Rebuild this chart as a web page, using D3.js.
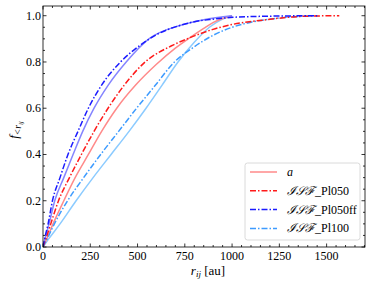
<!DOCTYPE html>
<html><head><meta charset="utf-8">
<script src="https://cdn.jsdelivr.net/npm/d3@7"></script>
<style>body{margin:0;background:#fff}svg{display:block}</style>
</head><body>
<svg id="c" width="373" height="286"></svg>
<script>
// Data: [r_ij (au), cumulative fraction]
const seriesA = [[0,0],[20,0.035],[53,0.1],[110,0.2],[170,0.3],[240,0.4],[310,0.5],[390,0.6],[490,0.7],[600,0.79],[700,0.86],[777,0.905],[850,0.945],[899,0.97],[950,0.988],[1000,1.0]];
const seriesPl050 = [[0,0],[15,0.035],[41,0.1],[82,0.2],[140,0.3],[203,0.4],[270,0.5],[344,0.6],[430,0.7],[540,0.8],[680,0.87],[777,0.905],[899,0.941],[1000,0.962],[1163,0.981],[1342,0.996],[1450,0.999],[1567,1.0]];
const seriesPl050ff = [[0,0],[10,0.04],[27,0.1],[50,0.2],[90,0.3],[132,0.4],[185,0.5],[240,0.6],[310,0.7],[410,0.8],[510,0.87],[605,0.92],[724,0.958],[800,0.974],[900,0.985],[1005,0.993],[1200,0.998],[1450,1.0]];
const seriesPl100 = [[0,0],[22,0.035],[60,0.1],[130,0.2],[215,0.3],[305,0.4],[400,0.5],[495,0.6],[595,0.7],[695,0.8],[790,0.86],[899,0.915],[1000,0.95],[1100,0.972],[1250,0.99],[1350,0.997],[1450,1.0]];
const seriesFfSolid = [[0,0],[12,0.04],[32,0.1],[62,0.2],[110,0.3],[159,0.4],[210,0.5],[270,0.6],[345,0.7],[440,0.8],[560,0.9],[724,0.958],[850,0.983],[1000,1.0]];
const seriesPl100Solid = [[0,0],[30,0.035],[90,0.1],[175,0.2],[265,0.3],[360,0.4],[455,0.5],[545,0.6],[630,0.7],[714,0.8],[800,0.885],[880,0.95],[950,0.985],[1000,1.0]];

const xTicks = [0,250,500,750,1000,1250,1500];
const yTicks = [0.0,0.2,0.4,0.6,0.8,1.0];
const legendLabels = ["a","ℐ𝒮ℱ_Pl050","ℐ𝒮ℱ_Pl050ff","ℐ𝒮ℱ_Pl100"];

const L=43, R=365, T=6, B=247;
const x = d3.scaleLinear().domain([0,1703]).range([L,R]);
const y = d3.scaleLinear().domain([0,1.042]).range([B,T]);
const svg = d3.select("#c");
const font = "'Liberation Serif','DejaVu Serif',serif";

const lines = [
  {d:seriesPl100Solid, c:"#8ccbff", dash:null},
  {d:seriesA, c:"#ff8a8a", dash:null},
  {d:seriesFfSolid, c:"#8585ff", dash:null},
  {d:seriesPl100, c:"#3d9bff", dash:"6,2,1.5,2"},
  {d:seriesPl050, c:"#ff1a1a", dash:"6,2,1.5,2"},
  {d:seriesPl050ff, c:"#1a1aff", dash:"6,2,1.5,2"}
];
const lineGen = d3.line().x(d=>x(d[0])).y(d=>y(d[1])).curve(d3.curveMonotoneX);
const g = svg.append("g");
g.append("clipPath").attr("id","clip").append("rect").attr("x",L).attr("y",T).attr("width",R-L).attr("height",B-T);
const pg = g.append("g").attr("clip-path","url(#clip)");
lines.forEach(l=>{
  pg.append("path").attr("d",lineGen(l.d)).attr("fill","none").attr("stroke",l.c)
    .attr("stroke-width",1.5).attr("stroke-dasharray",l.dash);
});

// frame
svg.append("rect").attr("x",L).attr("y",T).attr("width",R-L).attr("height",B-T)
  .attr("fill","none").attr("stroke","#000").attr("stroke-width",0.8);

// ticks
const tk = svg.append("g").attr("stroke","#000").attr("stroke-width",0.8);
const xMinor = d3.range(0,1701,50);
const yMinor = d3.range(0,1.041,0.05);
xMinor.forEach(v=>{
  const major = xTicks.includes(v);
  const len = major?3.5:2;
  tk.append("line").attr("x1",x(v)).attr("x2",x(v)).attr("y1",B).attr("y2",B-len);
  tk.append("line").attr("x1",x(v)).attr("x2",x(v)).attr("y1",T).attr("y2",T+len);
});
yMinor.forEach(v=>{
  const major = yTicks.some(t=>Math.abs(t-v)<1e-6);
  const len = major?3.5:2;
  tk.append("line").attr("y1",y(v)).attr("y2",y(v)).attr("x1",L).attr("x2",L+len);
  tk.append("line").attr("y1",y(v)).attr("y2",y(v)).attr("x1",R).attr("x2",R-len);
});
xTicks.forEach(v=>{
  svg.append("text").attr("x",x(v)).attr("y",260).attr("text-anchor","middle")
    .attr("font-family",font).attr("font-size",12).text(v);
});
yTicks.forEach(v=>{
  svg.append("text").attr("x",41).attr("y",y(v)+4).attr("text-anchor","end")
    .attr("font-family",font).attr("font-size",12).text(v.toFixed(1));
});

// axis labels
const xl = svg.append("text").attr("x",208).attr("y",275).attr("text-anchor","middle")
  .attr("font-family",font).attr("font-size",13);
xl.append("tspan").attr("font-style","italic").attr("font-size",13).text("r");
xl.append("tspan").attr("font-style","italic").attr("font-size",9).attr("dy",2).text("ij");
xl.append("tspan").attr("dy",-2).text(" [au]");

const yl = svg.append("text").attr("transform","translate(18,130) rotate(-90)").attr("text-anchor","middle")
  .attr("font-family",font).attr("font-size",13);
yl.append("tspan").attr("font-style","italic").text("f");
yl.append("tspan").attr("font-style","italic").attr("font-size",9.5).attr("dy",3).text("<r");
yl.append("tspan").attr("font-style","italic").attr("font-size",7).attr("dy",1.5).text("ij");

// legend
const lg = svg.append("g");
lg.append("rect").attr("x",245).attr("y",163).attr("width",115).attr("height",77).attr("rx",2.5)
  .attr("fill","#fff").attr("fill-opacity",0.8).attr("stroke","#d0d0d0").attr("stroke-width",0.8);
const legendLines = [lines[1],lines[4],lines[5],lines[3]];
legendLabels.forEach((lab,i)=>{
  const yy = 172 + i*18.8;
  const l = legendLines[i];
  lg.append("line").attr("x1",250).attr("x2",277).attr("y1",yy).attr("y2",yy)
    .attr("stroke",l.c).attr("stroke-width",1.5).attr("stroke-dasharray",l.dash);
  const t = lg.append("text").attr("x",287).attr("y",yy+4).attr("font-family",font).attr("font-size",12);
  if(i===0){ t.append("tspan").attr("font-style","italic").text("a"); }
  else {
    const parts = lab.split("_");
    t.append("tspan").attr("font-style","italic").text(parts[0]);
    t.append("tspan").text("_"+parts[1]);
  }
});
</script>
</body></html>
